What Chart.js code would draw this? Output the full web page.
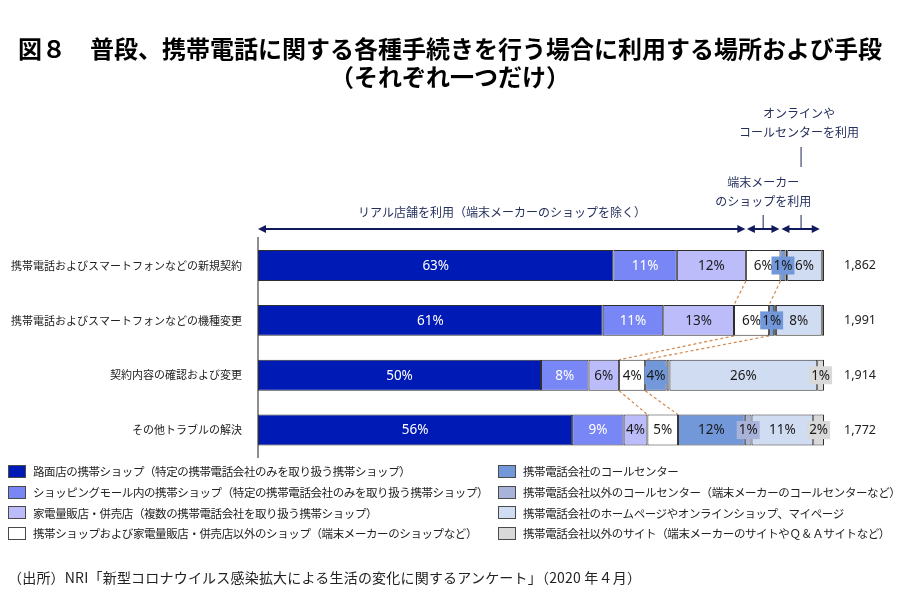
<!DOCTYPE html>
<html><head><meta charset="utf-8">
<script src="https://cdn.jsdelivr.net/npm/chart.js@4.4.1/dist/chart.umd.min.js"></script>
<style>
body{margin:0;background:#fff;}
#wrap{position:relative;width:900px;height:602px;overflow:hidden;font-family:"Noto Sans CJK JP",sans-serif;color:#222;}
#c{position:absolute;left:0;top:0;}
#legend{position:absolute;left:8px;top:461px;display:grid;grid-template-columns:490px 400px;grid-auto-flow:column;grid-template-rows:repeat(4,20.7px);}
.li{display:flex;align-items:center;font-size:11.5px;letter-spacing:-0.4px;white-space:nowrap;}
.sw{width:16px;height:11px;border:1px solid #4a4a4a;margin-right:7px;flex:none;}
#source{position:absolute;left:8px;top:567px;font-size:14px;letter-spacing:0.2px;white-space:nowrap;color:#222;}
</style></head>
<body><div id="wrap"><canvas id="c" width="900" height="602"></canvas><div id="legend"></div>
<div id="source">（出所）NRI「新型コロナウイルス感染拡大による生活の変化に関するアンケート」（2020 年４月）</div></div>
<script>
// ---- data ----
const categories = ['携帯電話およびスマートフォンなどの新規契約','携帯電話およびスマートフォンなどの機種変更','契約内容の確認および変更','その他トラブルの解決'];
const counts = ['1,862','1,991','1,914','1,772'];
const seriesNames = [
 '路面店の携帯ショップ（特定の携帯電話会社のみを取り扱う携帯ショップ）',
 'ショッピングモール内の携帯ショップ（特定の携帯電話会社のみを取り扱う携帯ショップ）',
 '家電量販店・併売店（複数の携帯電話会社を取り扱う携帯ショップ）',
 '携帯ショップおよび家電量販店・併売店以外のショップ（端末メーカーのショップなど）',
 '携帯電話会社のコールセンター',
 '携帯電話会社以外のコールセンター（端末メーカーのコールセンターなど）',
 '携帯電話会社のホームページやオンラインショップ、マイページ',
 '携帯電話会社以外のサイト（端末メーカーのサイトやＱ & Ａサイトなど）'];
const seriesColors = ['#001ab5','#7886f6','#bcbcfb','#ffffff','#7298da','#a9b3d9','#cfdcf1','#d9d9d9'];
const streetShop   = [62.8, 60.9, 50.0, 55.5];
const mallShop     = [11.2, 10.7,  8.4,  9.1];
const electronics  = [12.2, 12.5,  5.4,  4.2];
const otherShop    = [ 6.1,  6.2,  4.6,  5.4];
const carrierCall  = [ 0.9,  0.9,  3.8, 11.8];
const otherCall    = [ 0.3,  0.3,  0.5,  1.2];
const carrierWeb   = [ 6.1,  8.1, 26.1, 10.9];
const otherWeb     = [ 0.4,  0.4,  1.2,  1.9];
const streetShopLbl  = ['63%','61%','50%','56%'];
const mallShopLbl    = ['11%','11%','8%','9%'];
const electronicsLbl = ['12%','13%','6%','4%'];
const otherShopLbl   = ['6%','6%','4%','5%'];
const carrierCallLbl = ['1%','1%','4%','12%'];
const otherCallLbl   = ['','','','1%'];
const carrierWebLbl  = ['6%','8%','26%','11%'];
const otherWebLbl    = ['','','1%','2%'];
const annoReal = 'リアル店舗を利用（端末メーカーのショップを除く）';
const annoMaker = ['端末メーカー','のショップを利用'];
const annoOnline = ['オンラインや','コールセンターを利用'];

const seriesData = [streetShop,mallShop,electronics,otherShop,carrierCall,otherCall,carrierWeb,otherWeb];
const seriesLbls = [streetShopLbl,mallShopLbl,electronicsLbl,otherShopLbl,carrierCallLbl,otherCallLbl,carrierWebLbl,otherWebLbl];

// legend (HTML)
const lg = document.getElementById('legend');
seriesNames.forEach((n,i)=>{
  const d=document.createElement('div');d.className='li';
  d.innerHTML='<span class="sw" style="background:'+seriesColors[i]+'"></span><span></span>';
  d.lastChild.textContent=n; lg.appendChild(d);
});

const labelPlugin = {
  id:'segLabels',
  afterDatasetsDraw(chart){
    const ctx=chart.ctx; ctx.save();
    ctx.font='13.5px "Noto Sans", sans-serif';
    ctx.textAlign='center'; ctx.textBaseline='middle';
    chart.data.datasets.forEach((ds,di)=>{
      chart.getDatasetMeta(di).data.forEach((bar,i)=>{
        const t=seriesLbls[di][i]; if(!t) return;
        const p=bar.getProps(['x','y','base'],true);
        const cx=(p.x+p.base)/2, w=ctx.measureText(t).width, segW=Math.abs(p.x-p.base);
        if(segW < w+3){ ctx.fillStyle=seriesColors[di]; ctx.fillRect(cx-w/2-2,p.y-9,w+4,18); }
        ctx.fillStyle = di<2 ? '#ffffff' : '#1a1a1a';
        ctx.fillText(t,cx,p.y+0.5);
      });
    });
    ctx.restore();
  }
};

const connectorPlugin = {
  id:'connectors',
  beforeDatasetsDraw(chart){
    const meta=chart.getDatasetMeta(3); const ctx=chart.ctx;
    ctx.save(); ctx.strokeStyle='#d4874c'; ctx.lineWidth=1.2; ctx.setLineDash([3,2.5]);
    for(let i=0;i<meta.data.length-1;i++){
      const a=meta.data[i].getProps(['x','y','base','height'],true);
      const b=meta.data[i+1].getProps(['x','y','base','height'],true);
      [['base','base'],['x','x']].forEach(([k1,k2])=>{
        ctx.beginPath(); ctx.moveTo(a[k1],a.y+a.height/2); ctx.lineTo(b[k2],b.y-b.height/2); ctx.stroke();
      });
    }
    ctx.restore();
  }
};

function arrowHead(ctx,x,y,dir){
  ctx.beginPath(); ctx.moveTo(x,y); ctx.lineTo(x-dir*8,y-4); ctx.lineTo(x-dir*8,y+4); ctx.closePath(); ctx.fill();
}
function dblArrow(ctx,x0,x1,y){
  ctx.beginPath(); ctx.moveTo(x0+3,y); ctx.lineTo(x1-3,y); ctx.stroke();
  arrowHead(ctx,x0,y,-1); arrowHead(ctx,x1,y,1);
}
const annoPlugin = {
  id:'brackets',
  afterDraw(chart){
    const xs=chart.scales.x, ctx=chart.ctx;
    let c1=0; for(let k=0;k<3;k++) c1+=seriesData[k][0];
    const c2=c1+seriesData[3][0];
    let c3=c2; for(let k=4;k<7;k++) c3+=seriesData[k][0];
    const p0=xs.getPixelForValue(0), p1=xs.getPixelForValue(c1), p2=xs.getPixelForValue(c2), p3=xs.getPixelForValue(c3);
    const y=229;
    ctx.save(); ctx.strokeStyle='#111a5c'; ctx.fillStyle='#111a5c'; ctx.lineWidth=2;
    dblArrow(ctx,p0,p1-0.5,y); dblArrow(ctx,p1+1,p2-1,y); dblArrow(ctx,p2+1,p3-2,y);
    ctx.lineWidth=1; ctx.strokeStyle='#1b2350';
    const m1=(p1+p2)/2, m2=(p2+p3)/2;
    ctx.beginPath(); ctx.moveTo(m1,215); ctx.lineTo(m1,228); ctx.moveTo(m2,215); ctx.lineTo(m2,228);
    ctx.moveTo(m2,147); ctx.lineTo(m2,167); ctx.stroke();
    ctx.fillStyle='#26305e'; ctx.font='12px "Noto Sans CJK JP", sans-serif'; ctx.textAlign='center'; ctx.textBaseline='middle';
    ctx.fillText(annoReal,(p0+p1)/2,212);
    ctx.fillText(annoMaker[0],m1,182); ctx.fillText(annoMaker[1],m1,201);
    ctx.fillText(annoOnline[0],m2-2,113); ctx.fillText(annoOnline[1],m2-2,132);
    ctx.restore();
  }
};

new Chart(document.getElementById('c'),{
  type:'bar',
  data:{labels:categories,datasets:seriesData.map((d,i)=>({label:seriesNames[i],data:d,backgroundColor:seriesColors[i],borderColor:'#2e2e2e',borderWidth:1,borderSkipped:false,categoryPercentage:1,barPercentage:0.565}))},
  options:{
    responsive:false, animation:false, indexAxis:'y',
    layout:{padding:{top:0,bottom:144.5,left:0,right:0}},
    plugins:{
      legend:{display:false}, tooltip:{enabled:false},
      title:{display:true,text:['図８　普段、携帯電話に関する各種手続きを行う場合に利用する場所および手段','（それぞれ一つだけ）'],
        color:'#000',font:{family:'"Noto Sans CJK JP", sans-serif',size:24,weight:'bold',lineHeight:1.2},padding:{top:34,bottom:146.5}}
    },
    scales:{
      x:{stacked:true,min:0,max:100,display:false},
      y:{stacked:true,grid:{display:false},border:{display:true,color:'#8f8f8f',width:2},
        ticks:{color:'#222',padding:8,font:{family:'"Noto Sans CJK JP", sans-serif',size:11}},
        afterFit(s){s.width=258;}},
      y2:{type:'category',labels:counts,position:'right',grid:{display:false},border:{display:false},
        ticks:{color:'#222',padding:12,font:{family:'"Noto Sans", sans-serif',size:12.5}},
        afterFit(s){s.width=76;}}
    }
  },
  plugins:[connectorPlugin,labelPlugin,annoPlugin]
});
</script></body></html>
